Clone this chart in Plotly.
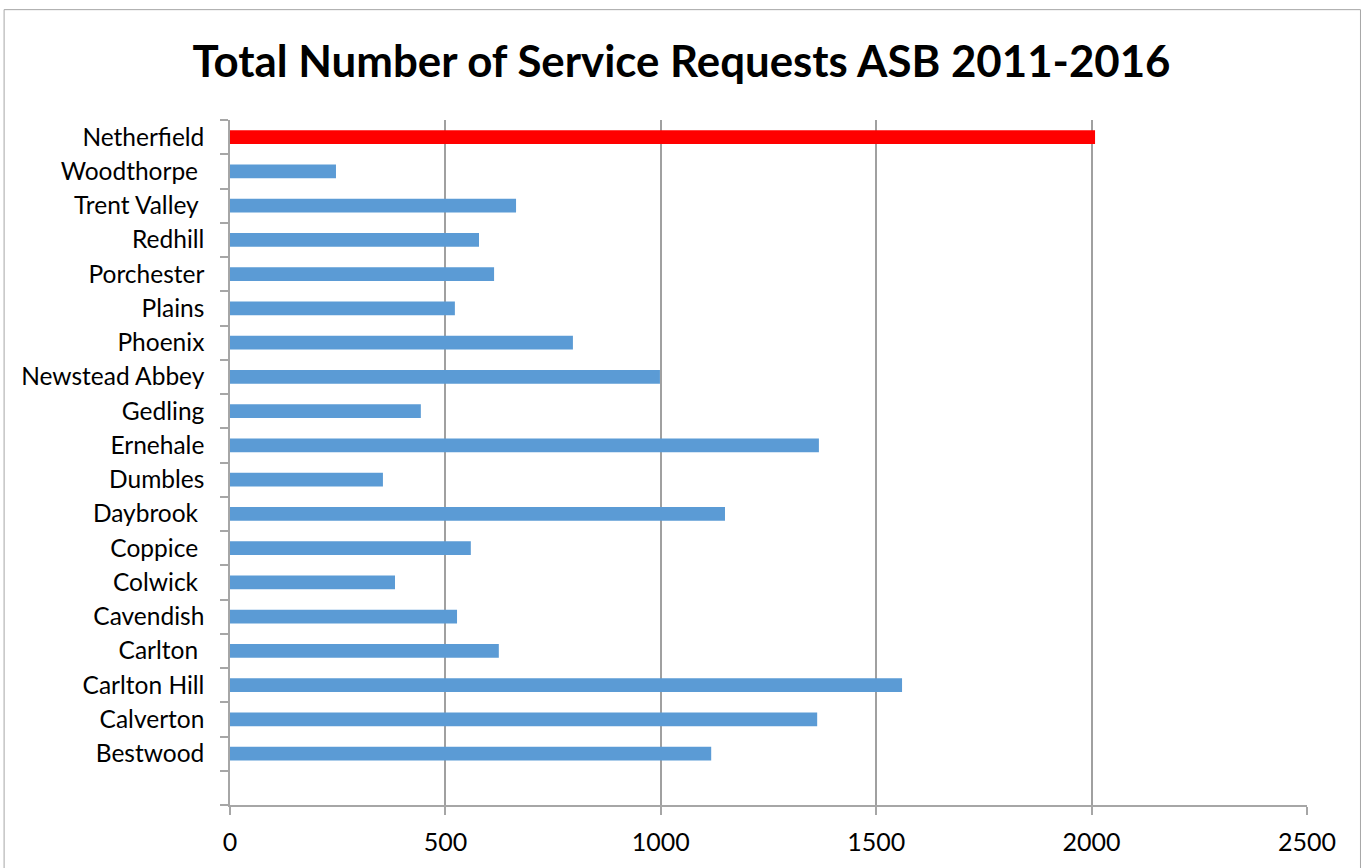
import plotly.graph_objects as go

categories = ["Bestwood", "Calverton", "Carlton Hill", "Carlton\u00a0", "Cavendish", "Colwick\u00a0",
              "Coppice\u00a0", "Daybrook\u00a0", "Dumbles", "Ernehale", "Gedling", "Newstead Abbey",
              "Phoenix", "Plains", "Porchester", "Redhill", "Trent Valley\u00a0", "Woodthorpe\u00a0",
              "Netherfield"]
values = [1117, 1363, 1560, 624, 527, 383, 559, 1149, 355, 1367, 443, 998,
          796, 522, 613, 578, 664, 246, 2008]
bar_colors = ["#5b9bd5"] * 18 + ["#ff0000"]
x_ticks = [0, 500, 1000, 1500, 2000, 2500]

positions = list(range(1, len(categories) + 1))

fig = go.Figure(go.Bar(
    x=values, y=positions, orientation="h",
    marker=dict(color=bar_colors, line=dict(width=0)),
    width=0.4,
))

fig.update_layout(
    width=1363, height=868,
    margin=dict(l=230, r=55.5, t=120, b=59),
    paper_bgcolor="white", plot_bgcolor="white",
    showlegend=False,
    title=dict(text="<b>Total Number of Service Requests ASB 2011-2016</b>",
               x=0.5, xref="container", xanchor="center", y=1 - 62/868, yanchor="middle",
               font=dict(family="Lato", size=43.8, color="black")),
    font=dict(family="Lato", color="black"),
    xaxis=dict(range=[0, 2500], tickvals=x_ticks, showgrid=True, gridcolor="#a0a0a0",
               gridwidth=1.5, zeroline=False, showline=True, linecolor="#a6a6a6", linewidth=1.5,
               ticks="outside", ticklen=8, tickcolor="#a6a6a6", tickwidth=1.5, ticklabelstandoff=6,
               tickfont=dict(size=25, family="Lato"), fixedrange=True),
    yaxis=dict(range=[-0.5, len(categories) + 0.5], tickvals=positions, ticktext=categories,
               ticks="", showgrid=False, zeroline=False, showline=True, linecolor="#a6a6a6",
               linewidth=1.5,
               tickfont=dict(size=24.5, family="Lato"), ticklabelstandoff=19,
               minor=dict(tick0=0.5, dtick=1, ticks="outside", ticklen=8, tickwidth=1.5,
                          tickcolor="#a6a6a6", showgrid=False)),
    shapes=[dict(type="rect", xref="paper", yref="paper",
                 x0=(4 - 230) / 1077.5, x1=(1361 - 230) / 1077.5,
                 y0=(809 - 880) / 689, y1=(809 - 9) / 689,
                 line=dict(color="#a6a6a6", width=1), layer="below")],
)

fig.write_html("out.html")
